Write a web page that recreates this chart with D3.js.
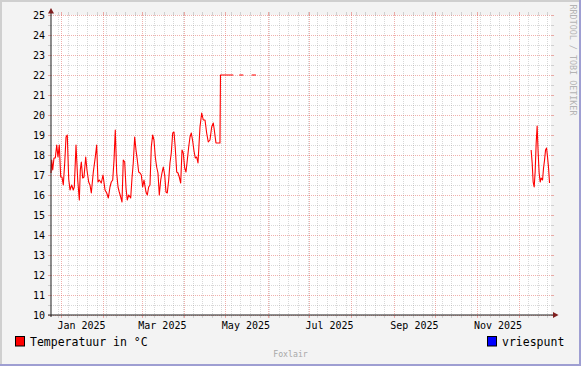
<!DOCTYPE html>
<html><head><meta charset="utf-8">
<script src="https://cdn.jsdelivr.net/npm/d3@7"></script>
<style>html,body{margin:0;padding:0;background:#f3f3f3;} svg{display:block;}</style>
</head><body>
<script>
// ---- data ----
const times = [
"2024-12-24 17","2024-12-25 05","2024-12-25 23","2024-12-26 21","2024-12-27 20","2024-12-28 21","2024-12-29 19","2024-12-30 18","2024-12-31 19",
"2025-01-01 17","2025-01-02 16","2025-01-03 17","2025-01-04 16","2025-01-05 14","2025-01-06 15","2025-01-07 14","2025-01-08 19","2025-01-09 23","2025-01-10 17",
"2025-01-11 23","2025-01-13 05","2025-01-14 09","2025-01-15 02","2025-01-15 20","2025-01-16 20","2025-01-17 19","2025-01-19 01","2025-01-19 23","2025-01-21 05",
"2025-01-22 04","2025-01-23 03","2025-01-24 14","2025-01-26 01","2025-01-27 01","2025-01-28 00","2025-01-28 23","2025-01-30 10","2025-01-31 16",
"2025-02-02 03","2025-02-03 09","2025-02-04 13","2025-02-05 18","2025-02-06 17","2025-02-07 18","2025-02-08 17","2025-02-09 15","2025-02-10 16","2025-02-11 15",
"2025-02-12 13","2025-02-13 14","2025-02-14 13","2025-02-15 11","2025-02-16 12","2025-02-17 11","2025-02-18 09","2025-02-19 10","2025-02-20 21","2025-02-21 20",
"2025-02-22 18","2025-02-23 19","2025-02-24 18","2025-02-25 17","2025-02-26 17","2025-02-27 16","2025-02-28 15",
"2025-03-01 15","2025-03-02 14","2025-03-04 01","2025-03-05 00","2025-03-06 00","2025-03-06 23","2025-03-07 22","2025-03-08 22","2025-03-09 21","2025-03-10 20",
"2025-03-11 20","2025-03-12 19","2025-03-13 18","2025-03-14 19","2025-03-15 17","2025-03-16 16","2025-03-17 17","2025-03-18 15","2025-03-19 14","2025-03-20 15",
"2025-03-21 13","2025-03-22 12","2025-03-23 13","2025-03-24 12","2025-03-25 10","2025-03-26 11","2025-03-27 10","2025-03-28 08","2025-03-29 09","2025-03-30 08","2025-03-31 06",
"2025-04-01 07","2025-04-02 06","2025-04-03 05","2025-04-04 05","2025-04-05 04","2025-04-06 03","2025-04-07 03","2025-04-08 02","2025-04-09 01","2025-04-10 01",
"2025-04-11 00","2025-04-12 11","2025-04-13 17","2025-04-14 21","2025-04-16 03","2025-04-17 08","2025-04-18 12","2025-04-19 18","2025-04-21 00","2025-04-22 04",
"2025-04-22 22","2025-04-24 03","2025-04-25 20","2025-04-27 01","2025-04-27 10","2025-05-06 18",
"2025-05-08 12",
"2025-05-11 04","2025-05-14 02",
"2025-05-17 12",
"2025-05-20 05","2025-05-23 07",
"2025-07-01 00",
"2025-12-10 05","2025-12-10 23","2025-12-11 16","2025-12-12 10","2025-12-13 03","2025-12-13 21","2025-12-14 14","2025-12-15 08","2025-12-16 01","2025-12-16 19",
"2025-12-17 12","2025-12-18 13","2025-12-19 06","2025-12-20 00","2025-12-20 17","2025-12-21 11","2025-12-22 04","2025-12-22 22","2025-12-23 15"
];
const temps = [
17.1,17.75,17.25,17.85,17.85,18.5,17.9,18.5,16.9,
16.9,16.5,17.6,18.9,19.0,16.8,16.25,16.5,16.25,16.4,
18.5,16.75,15.75,17.25,17.65,16.85,16.9,17.9,17.25,16.65,
16.5,16.1,17.15,17.9,18.5,16.65,16.75,16.6,17.0,
16.25,16.1,15.85,16.4,16.65,16.75,17.75,19.25,17.1,16.4,
16.15,15.9,15.65,17.75,17.65,16.35,15.75,16.0,15.85,16.85,
17.6,18.9,18.25,17.75,17.15,17.1,17.0,
16.4,16.75,16.15,16.0,16.4,16.5,18.4,19.0,18.75,17.9,
17.4,17.1,16.0,16.75,17.1,17.4,17.0,16.15,16.1,16.75,
17.6,18.1,19.1,19.15,18.35,17.15,17.1,16.9,16.6,18.25,18.1,
17.35,17.15,17.75,18.4,18.9,19.1,18.7,18.2,17.85,17.9,
17.6,19.4,20.1,19.75,19.75,19.1,18.65,18.75,19.4,19.6,
19.25,18.6,18.6,18.6,22.0,22.0,
null,
22.0,22.0,
null,
22.0,22.0,
null,
18.25,17.6,16.65,16.4,17.15,18.6,19.45,18.1,17.1,16.65,
16.85,16.75,17.35,17.75,18.25,18.35,17.9,17.35,16.6
];
const yTicks = [10,11,12,13,14,15,16,17,18,19,20,21,22,23,24,25];
const monthLabels = ["2025-01-01","2025-03-01","2025-05-01","2025-07-01","2025-09-01","2025-11-01"];
const legendNames = ["Temperatuur in °C", "vriespunt"];
const legendColors = ["#ff0000", "#0000ff"];
const rangeStart = "2024-12-24 16:48";
const rangeEnd = "2025-12-24 16:48";

// ---- layout ----
const W = 581, H = 366;
const X0 = 51, X1 = 551, Y0 = 315, Y1 = 15;
const mono = "'DejaVu Sans Mono', monospace";

const parseH = d3.timeParse("%Y-%m-%d %H");
const parseM = d3.timeParse("%Y-%m-%d %H:%M");
const parseD = d3.timeParse("%Y-%m-%d");

const x = d3.scaleTime().domain([parseM(rangeStart), parseM(rangeEnd)]).range([X0, X1]);
const y = d3.scaleLinear().domain([10, 25]).range([Y0, Y1]);

const svg = d3.select("body").append("svg").attr("width", W).attr("height", H);

// background + frame
svg.append("rect").attr("width", W).attr("height", H).attr("fill", "#f3f3f3");
svg.append("rect").attr("x", 0).attr("y", 0).attr("width", W).attr("height", 2).attr("fill", "#cfcfcf");
svg.append("rect").attr("x", 0).attr("y", 0).attr("width", 2).attr("height", H).attr("fill", "#cfcfcf");
svg.append("rect").attr("x", 0).attr("y", H - 2).attr("width", W).attr("height", 2).attr("fill", "#9e9ed2");
svg.append("rect").attr("x", W - 2).attr("y", 0).attr("width", 2).attr("height", H).attr("fill", "#9e9ed2");

// canvas
svg.append("rect").attr("x", X0).attr("y", Y1).attr("width", X1 - X0).attr("height", Y0 - Y1).attr("fill", "#ffffff");

const grid = svg.append("g");
const minorCol = "rgba(143,143,143,0.35)";
const majorCol = "rgba(222,80,72,0.45)";

function hLine(yy, col) {
  const py = Math.round(yy) + 0.5;
  grid.append("line").attr("x1", X0).attr("x2", X1).attr("y1", py).attr("y2", py)
    .attr("stroke", col).attr("stroke-dasharray", "1,1");
  grid.append("line").attr("x1", X0 - 3).attr("x2", X0).attr("y1", py).attr("y2", py).attr("stroke", col);
  grid.append("line").attr("x1", X1).attr("x2", X1 + 3).attr("y1", py).attr("y2", py).attr("stroke", col);
}
function vLine(xx, col) {
  const px = Math.round(xx) + 0.5;
  grid.append("line").attr("x1", px).attr("x2", px).attr("y1", Y1).attr("y2", Y0)
    .attr("stroke", col).attr("stroke-dasharray", "1,1");
  grid.append("line").attr("x1", px).attr("x2", px).attr("y1", Y0).attr("y2", Y0 + 3).attr("stroke", col);
  grid.append("line").attr("x1", px).attr("x2", px).attr("y1", Y1 - 3).attr("y2", Y1).attr("stroke", col);
}

// horizontal grid
yTicks.forEach((v, i) => { if (i < yTicks.length - 1) hLine(y(v + 0.5), minorCol); });
yTicks.forEach(v => hLine(y(v), majorCol));

// vertical grid: weekly minor, monthly major
const [d0, d1] = x.domain();
const months = d3.timeMonth.range(d3.timeMonth.ceil(d0), d1);
const monthSet = new Set(months.map(m => +m));
d3.timeMonday.range(d3.timeMonday.ceil(d0), d1).forEach(w => {
  if (!monthSet.has(+d3.timeDay.floor(w)) ) vLine(x(w), minorCol);
});
months.forEach(m => vLine(x(m), majorCol));

// y labels
svg.append("g").selectAll("text").data(yTicks).join("text")
  .attr("x", 45).attr("y", d => y(d) + 3.6)
  .attr("text-anchor", "end").attr("font-family", mono).attr("font-size", 10).attr("fill", "#000")
  .text(d => d);

// x labels (centered mid-month, as rrdtool does)
const fmt = d3.timeFormat("%b %Y");
svg.append("g").selectAll("text").data(monthLabels.map(parseD)).join("text")
  .attr("x", d => x(d3.timeDay.offset(d, 15)))
  .attr("y", 328.5)
  .attr("text-anchor", "middle").attr("font-family", mono).attr("font-size", 10).attr("fill", "#000")
  .text(d => fmt(d));

// data line
const pts = times.map((t, i) => ({ t: parseH(t), v: temps[i] }));
const line = d3.line().defined(d => d.v !== null).x(d => x(d.t)).y(d => y(d.v));
svg.append("path").datum(pts).attr("d", line)
  .attr("fill", "none").attr("stroke", legendColors[0]).attr("stroke-width", 1.1)
  .attr("stroke-linejoin", "round");

// axes
const axisCol = "#1f1f1f";
svg.append("line").attr("x1", X0).attr("x2", X0).attr("y1", Y0 + 2).attr("y2", Y1 - 4)
  .attr("stroke", axisCol);
svg.append("line").attr("x1", X0 - 3).attr("x2", X1 + 3).attr("y1", Y0).attr("y2", Y0)
  .attr("stroke", axisCol);
const arrowCol = "#7f1f1f";
svg.append("path").attr("d", `M${X0 - 3},${Y1 - 1.5} L${X0 + 3},${Y1 - 1.5} L${X0},${Y1 - 7} Z`).attr("fill", arrowCol);
svg.append("path").attr("d", `M${X1 + 2},${Y0 - 3} L${X1 + 2},${Y0 + 3} L${X1 + 7.5},${Y0} Z`).attr("fill", arrowCol);

// legend
const legX = [15, 487];
legendNames.forEach((name, i) => {
  svg.append("rect").attr("x", legX[i] + 0.5).attr("y", 336.5).attr("width", 9).attr("height", 9.5)
    .attr("fill", legendColors[i]).attr("stroke", "#000").attr("stroke-width", 1);
  svg.append("text").attr("x", legX[i] + 15).attr("y", 345.5)
    .attr("font-family", mono).attr("font-size", 11.5).attr("fill", "#000").text(name);
});

// footer + watermark
svg.append("text").attr("x", 290.5).attr("y", 357).attr("text-anchor", "middle")
  .attr("font-family", mono).attr("font-size", 8.2).attr("fill", "#a8a8a8").text("Foxlair");
svg.append("text").attr("transform", "translate(569.5,60) rotate(90)").attr("text-anchor", "middle")
  .attr("font-family", mono).attr("font-size", 8.4).attr("fill", "#b4b4b4").text("RRDTOOL / TOBI OETIKER");
</script>
</body></html>
